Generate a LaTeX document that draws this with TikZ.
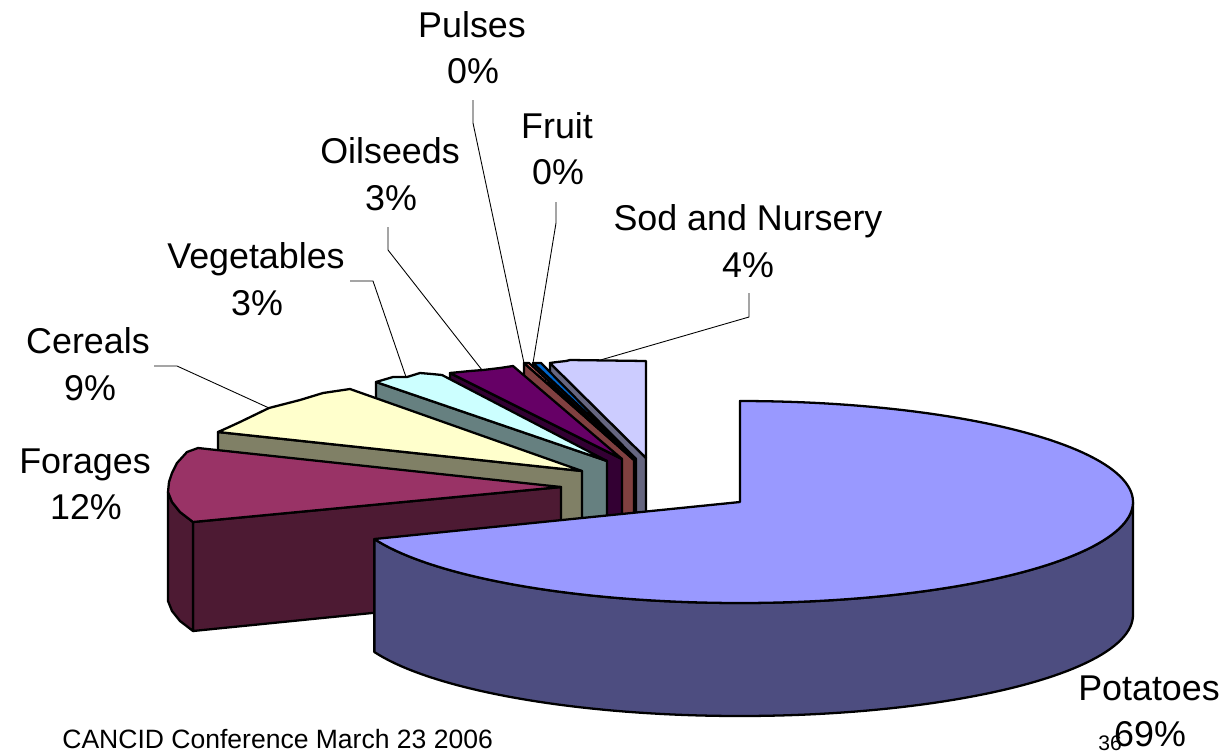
\documentclass[tikz,border=0pt]{standalone}
\usepackage{fontspec}
\setmainfont{Liberation Sans}
\definecolor{potTopC}{HTML}{9999FF}
\definecolor{potSideC}{HTML}{4D4D80}
\definecolor{forTopC}{HTML}{993366}
\definecolor{forSideC}{HTML}{4D1A33}
\definecolor{cerTopC}{HTML}{FFFFCC}
\definecolor{cerSideC}{HTML}{808066}
\definecolor{vegTopC}{HTML}{CCFFFF}
\definecolor{vegSideC}{HTML}{668080}
\definecolor{oilTopC}{HTML}{660066}
\definecolor{oilSideC}{HTML}{330033}
\definecolor{pulTopC}{HTML}{FF8080}
\definecolor{pulSideC}{HTML}{804040}
\definecolor{fruTopC}{HTML}{0066CC}
\definecolor{fruSideC}{HTML}{003366}
\definecolor{sodTopC}{HTML}{CCCCFF}
\definecolor{sodSideC}{HTML}{666680}
\begin{document}
\begin{tikzpicture}[x=0.02cm, y=-0.02cm,
  face/.style={draw=black, line width=1.3pt, line join=round},
  leader/.style={draw=black, line width=0.5pt},
  lbl/.style={anchor=base, inner sep=0pt, font=\fontsize{20.4}{24}\selectfont},
  foot/.style={anchor=base west, inner sep=0pt, font=\fontsize{15.1}{18}\selectfont},
  pagenum/.style={anchor=base west, inner sep=0pt, font=\fontsize{12}{14}\selectfont}]
\useasboundingbox (0,0) rectangle (1223,751);

% ---- key points ----
\coordinate (Ls) at (550,363); \coordinate (Rs) at (646,361); \coordinate (As) at (646,458);
\coordinate (Lf) at (533,363); \coordinate (Rf) at (541,363); \coordinate (Af) at (636,459);
\coordinate (Lp) at (524,363); \coordinate (Rp) at (529,363); \coordinate (Ap) at (634,460);
\coordinate (Lo) at (450,373); \coordinate (Ro) at (513,366); \coordinate (Ao) at (622,459);
\coordinate (Lv) at (376,382); \coordinate (Rv) at (442,375); \coordinate (Av) at (607,461);
\coordinate (Lc) at (218,432); \coordinate (Rc) at (350,389); \coordinate (Ac) at (582,471);
\coordinate (Lg) at (193,522); \coordinate (Rg) at (198,448); \coordinate (Ag) at (561,487);
\coordinate (C) at (740,502);

% ---- leader lines ----
\coordinate (pulA) at (473,100); \coordinate (pulB) at (473,123);
\coordinate (fruA) at (556,202); \coordinate (fruB) at (556,223);
\coordinate (oilA) at (388,227); \coordinate (oilB) at (388,250); \coordinate (oilE) at (482,370);
\coordinate (vegA) at (350,281); \coordinate (vegB) at (373,281); \coordinate (vegE) at (406,377);
\coordinate (cerA) at (154,366); \coordinate (cerB) at (177,366); \coordinate (cerE) at (269,408);
\coordinate (sodA) at (749,293); \coordinate (sodB) at (749,317); \coordinate (sodE) at (597,361);
\draw[leader] (pulA) -- (pulB) -- (Lp);
\draw[leader] (fruA) -- (fruB) -- (Lf);
\draw[leader] (oilA) -- (oilB) -- (oilE);
\draw[leader] (vegA) -- (vegB) -- (vegE);
\draw[leader] (cerA) -- (cerB) -- (cerE);
\draw[leader] (sodA) -- (sodB) -- (sodE);

% ---- Sod and Nursery ----
\filldraw[face, fill=sodSideC] (Ls) -- (As) -- (646,558) -- (550,463) -- cycle;
\filldraw[face, fill=sodTopC] (Ls) -- (557,362) -- (566,361) -- (570,360) -- (Rs) -- (As) -- cycle;
% ---- Fruit ----
\filldraw[face, fill=fruSideC] (Lf) -- (Af) -- (636,559) -- (533,463) -- cycle;
\filldraw[face, fill=fruTopC] (Lf) -- (Rf) -- (Af) -- cycle;
% ---- Pulses ----
\filldraw[face, fill=pulSideC] (Lp) -- (Ap) -- (634,560) -- (524,463) -- cycle;
\filldraw[face, fill=pulTopC] (Lp) -- (Rp) -- (Ap) -- cycle;
% ---- Oilseeds ----
\filldraw[face, fill=oilSideC] (Lo) -- (Ao) -- (622,559) -- (450,473) -- cycle;
\filldraw[face, fill=oilTopC] (Lo) -- (470,371) -- (483,370) -- (500,368) -- (Ro) -- (Ao) -- cycle;
% ---- Vegetables ----
\filldraw[face, fill=vegSideC] (Lv) -- (Av) -- (607,561) -- (376,482) -- cycle;
\filldraw[face, fill=vegTopC] (Lv) -- (393,377) -- (407,377) -- (420,373) -- (432,374) -- (Rv) -- (Av) -- cycle;
% ---- Cereals ----
\filldraw[face, fill=cerSideC] (Lc) -- (Ac) -- (582,571) -- (218,532) -- cycle;
\filldraw[face, fill=cerTopC] (Lc) -- (227,428) -- (240,422) -- (269,408) -- (300,400) -- (323,393) -- (Rc) -- (Ac) -- cycle;
% ---- Forages ----
\filldraw[face, fill=forSideC] (Lg) -- (Ag) -- (561,594) -- (193,631) -- cycle;
\filldraw[face, fill=forSideC] (168,492) -- (172,502) -- (180,512) -- (Lg) -- (193,631) -- (180,621) -- (172,611) -- (168,601) -- cycle;
\filldraw[face, fill=forTopC] (Rg) -- (Ag) -- (Lg) -- (180,512) -- (172,502) -- (168,492) -- (169,482) -- (172,473) -- (177,463) -- (187,452) -- cycle;
% ---- Potatoes ----
\filldraw[face, fill=potSideC] plot[domain=0:158.5, samples=90] ({740+393*cos(\x)},{502+101*sin(\x)}) -- plot[domain=158.5:0, samples=90] ({740+393*cos(\x)},{615+101*sin(\x)}) -- cycle;
\filldraw[face, fill=potTopC] (C) -- plot[domain=158.5:-90, samples=140] ({740+393*cos(\x)},{502+101*sin(\x)}) -- cycle;

% ---- labels ----
\node[lbl] (pulT) at (472,37) {Pulses};
\node[lbl] (pulP) at (473,83) {0\%};
\node[lbl] (fruT) at (557,138) {Fruit};
\node[lbl] (fruP) at (558,184) {0\%};
\node[lbl] (oilT) at (390,163) {Oilseeds};
\node[lbl] (oilP) at (391,210) {3\%};
\node[lbl] (sodT) at (748,230) {Sod and Nursery};
\node[lbl] (sodP) at (748,277) {4\%};
\node[lbl] (vegT) at (256,268) {Vegetables};
\node[lbl] (vegP) at (257,315) {3\%};
\node[lbl] (cerT) at (88,353) {Cereals};
\node[lbl] (cerP) at (90,400) {9\%};
\node[lbl] (forT) at (85,473) {Forages};
\node[lbl] (forP) at (86,519) {12\%};
\node[lbl] (potT) at (1149,700) {Potatoes};
\node[pagenum] (page) at (1098,750) {36};
\node[lbl] (potP) at (1150,746) {69\%};
\node[foot] (footer) at (62,748) {CANCID Conference March 23 2006};
\end{tikzpicture}
\end{document}
